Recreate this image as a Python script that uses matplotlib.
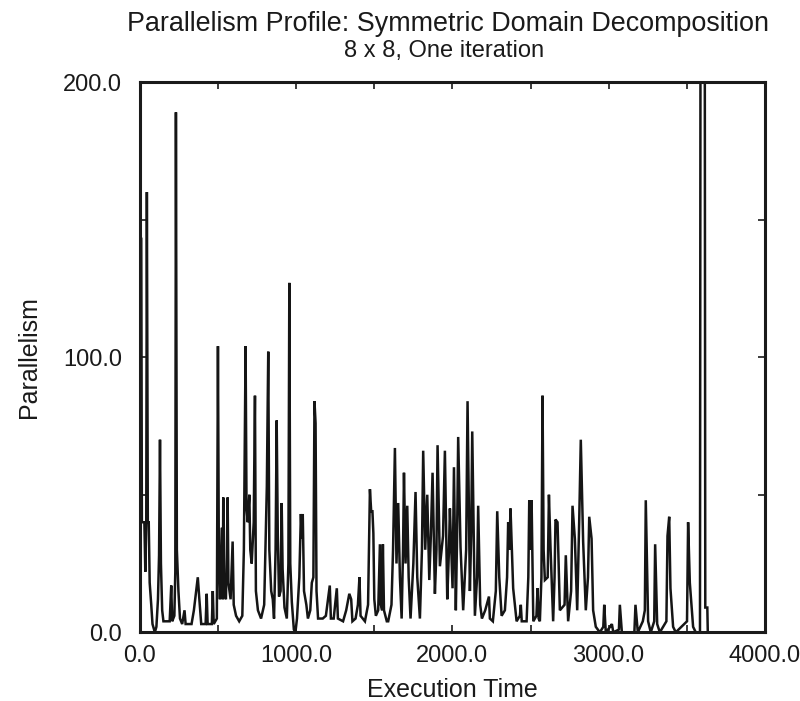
import matplotlib
matplotlib.use("Agg")
import matplotlib.pyplot as plt
from matplotlib.ticker import MultipleLocator, FormatStrFormatter

plt.rcParams['font.family'] = ['Liberation Sans', 'DejaVu Sans']

title = "Parallelism Profile: Symmetric Domain Decomposition"
subtitle = "8 x 8, One iteration"
x_label = "Execution Time"
y_label = "Parallelism"

# execution time
time = [
    0, 8, 12, 28, 34, 40, 44, 50, 56, 62, 72, 80, 95, 105, 115, 122, 128, 134, 142, 150,
    190, 200, 206, 220, 226, 230, 236, 246, 256, 270, 285, 292, 330, 345, 370, 380, 392, 420, 427, 433,
    460, 466, 472, 492, 499, 505, 512, 520, 525, 530, 533, 538, 550, 556, 561, 566, 580, 588, 593, 600,
    615, 635, 655, 665, 676, 682, 690, 700, 706, 715, 728, 736, 742, 755, 775, 795, 805, 812, 821, 828,
    840, 850, 858, 868, 875, 882, 890, 900, 907, 913, 925, 940, 950, 956, 962, 972, 985, 995, 1005, 1020,
    1030, 1036, 1042, 1050, 1065, 1075, 1090, 1100, 1110, 1117, 1124, 1130, 1140, 1170, 1190, 1215, 1222, 1240, 1260, 1267,
    1300, 1320, 1340, 1352, 1360, 1380, 1395, 1405, 1412, 1440, 1460, 1472, 1480, 1488, 1494, 1500, 1510, 1525, 1536, 1542,
    1550, 1555, 1562, 1580, 1589, 1610, 1620, 1632, 1642, 1653, 1664, 1675, 1684, 1690, 1700, 1711, 1720, 1732, 1750, 1764,
    1775, 1792, 1805, 1813, 1826, 1839, 1852, 1862, 1873, 1888, 1898, 1905, 1920, 1940, 1952, 1967, 1978, 1984, 2001, 2010,
    2022, 2030, 2037, 2052, 2069, 2088, 2097, 2112, 2120, 2127, 2144, 2158, 2165, 2178, 2189, 2210, 2234, 2240, 2259, 2278,
    2287, 2300, 2315, 2336, 2350, 2357, 2365, 2372, 2389, 2411, 2432, 2438, 2444, 2475, 2486, 2492, 2500, 2507, 2518, 2538,
    2545, 2552, 2560, 2570, 2577, 2584, 2592, 2610, 2618, 2628, 2645, 2654, 2660, 2673, 2688, 2718, 2726, 2741, 2760, 2769,
    2784, 2799, 2812, 2822, 2837, 2854, 2868, 2876, 2891, 2901, 2918, 2944, 2966, 2972, 2982, 3010, 3021, 3030, 3066, 3072,
    3085, 3165, 3172, 3187, 3219, 3232, 3238, 3253, 3270, 3292, 3298, 3311, 3328, 3370, 3377, 3388, 3396, 3413, 3430, 3502,
    3509, 3520, 3541, 3558, 3585, 3588, 3616, 3619, 3632, 3635,
]
# parallelism
parallelism = [
    143, 143, 40, 40, 22, 40, 160, 40, 40, 18, 10, 3, 0, 2, 12, 28, 70, 25, 8, 4,
    4, 17, 4, 6, 22, 189, 30, 15, 5, 3, 8, 3, 3, 8, 20, 12, 3, 3, 14, 3,
    3, 15, 3, 5, 104, 25, 12, 30, 38, 12, 49, 15, 12, 30, 49, 18, 12, 25, 33, 10,
    6, 4, 6, 30, 104, 45, 40, 50, 30, 25, 40, 86, 15, 8, 5, 10, 35, 53, 102, 30,
    15, 12, 5, 30, 77, 36, 13, 15, 47, 23, 9, 5, 25, 127, 25, 11, 1, 0, 5, 20,
    43, 34, 43, 15, 10, 5, 8, 18, 20, 84, 76, 15, 5, 5, 6, 17, 5, 5, 16, 5,
    4, 8, 14, 12, 4, 5, 10, 20, 6, 4, 10, 52, 44, 44, 36, 12, 6, 8, 32, 10,
    8, 32, 8, 4, 4, 10, 30, 67, 25, 47, 20, 5, 30, 58, 25, 46, 20, 5, 25, 51,
    20, 5, 30, 66, 30, 50, 19, 35, 58, 14, 30, 68, 24, 35, 66, 12, 30, 45, 16, 60,
    8, 35, 71, 31, 8, 30, 84, 15, 35, 73, 6, 20, 46, 10, 5, 8, 13, 5, 4, 15,
    44, 20, 6, 8, 20, 40, 30, 45, 16, 4, 6, 10, 4, 4, 20, 48, 30, 48, 4, 6,
    16, 5, 4, 20, 86, 30, 19, 20, 50, 31, 4, 20, 41, 40, 8, 10, 28, 4, 15, 46,
    34, 8, 41, 70, 33, 8, 20, 42, 34, 8, 2, 0, 2, 10, 0, 2, 3, 0, 1, 10,
    0, 0, 10, 0, 4, 8, 48, 4, 0, 4, 32, 3, 0, 4, 35, 42, 16, 2, 0, 4,
    40, 18, 2, 0, 0, 200, 200, 9, 9, 0,
]

x_ticks = [0, 1000, 2000, 3000, 4000]
y_ticks = [0, 100, 200]

fig = plt.figure(figsize=(8.0, 7.01), dpi=100)
ax = fig.add_axes([0.175, 0.098, 0.781, 0.785])

ax.plot(time, parallelism, color="#151515", lw=1.8, solid_joinstyle="miter")

ax.set_xlim(0, 4000)
ax.set_ylim(0, 200)
ax.set_xticks(x_ticks)
ax.set_yticks(y_ticks)
ax.xaxis.set_minor_locator(MultipleLocator(500))
ax.yaxis.set_minor_locator(MultipleLocator(50))
ax.xaxis.set_major_formatter(FormatStrFormatter("%.1f"))
ax.yaxis.set_major_formatter(FormatStrFormatter("%.1f"))
ax.tick_params(which="both", direction="in", top=True, right=True, length=5, width=1.2,
               labelsize=17, colors="#1a1a1a")
ax.tick_params(axis="x", which="major", pad=9)
ax.tick_params(axis="y", which="major", pad=13)
for s in ax.spines.values():
    s.set_linewidth(2.2)
    s.set_color("#1a1a1a")

ax.set_xlabel(x_label, fontsize=18, labelpad=8, color="#1a1a1a")
ax.set_ylabel(y_label, fontsize=18, labelpad=16, color="#1a1a1a")

fig.text(0.56, 0.966, title, ha="center", va="center", fontsize=19.4, color="#1a1a1a")
fig.text(0.555, 0.927, subtitle, ha="center", va="center", fontsize=17, color="#1a1a1a")

fig.savefig("out.png", dpi=100)
